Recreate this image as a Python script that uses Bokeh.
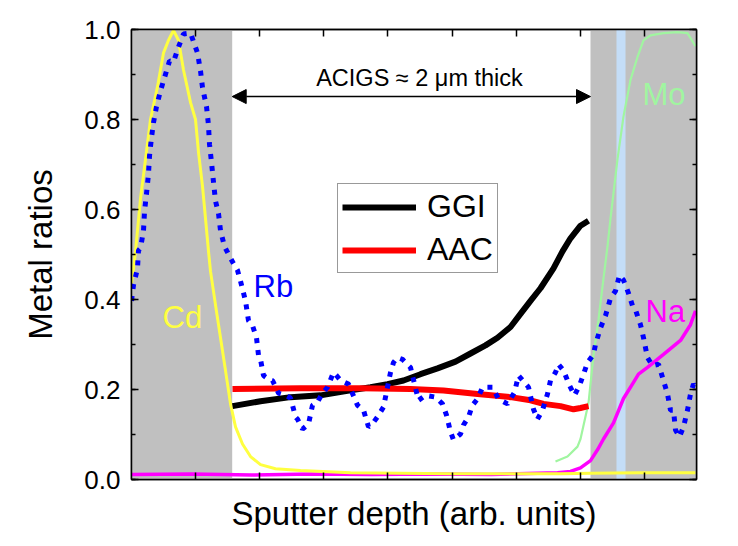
from bokeh.plotting import figure
from bokeh.models import (Range1d, LinearAxis, FixedTicker, SingleIntervalTicker, Label, Arrow,
                          NormalHead, PrintfTickFormatter, CustomJSTickFormatter)
from bokeh.embed import file_html
from bokeh.resources import INLINE

FONT = "Liberation Sans"

# Sputter depth in arbitrary units (0 .. 565)
depth_max = 565
ACIGS_start = 100.7
ACIGS_end = 459
blue_band = (485, 494)

cd_x = [0, 2, 4, 9, 14, 19, 26, 32, 37, 42, 47, 52, 59, 64, 67, 71, 74, 77, 79, 84, 89, 94, 99, 104, 111, 119, 129, 144, 169, 219, 319, 429, 459, 509, 564]
cd_y = [0.436, 0.469, 0.507, 0.624, 0.712, 0.800, 0.873, 0.948, 0.976, 0.998, 0.976, 0.910, 0.838, 0.800, 0.727, 0.652, 0.580, 0.507, 0.463, 0.388, 0.315, 0.242, 0.168, 0.117, 0.079, 0.051, 0.033, 0.024, 0.020, 0.015, 0.013, 0.013, 0.014, 0.015, 0.015]

rb_x = [0, 2, 6, 7, 9, 12, 13, 15, 17, 18, 20, 22, 25, 29, 33, 38, 42, 47, 52, 59, 66, 69, 71, 75, 77, 78, 80, 82, 84, 87, 89, 93, 98, 102, 106, 109, 114, 117, 121, 125, 127, 129, 132, 137, 141, 147, 154, 159, 161, 164, 166, 171, 177, 181, 186, 191, 196, 202, 205, 209, 217, 226, 232, 237, 240, 246, 252, 259, 262, 266, 271, 279, 287, 294, 304, 311, 315, 319, 322, 329, 332, 337, 341, 346, 351, 361, 367, 376, 383, 387, 397, 402, 406, 411, 416, 419, 424, 427, 432, 438, 443, 448, 452, 456, 462, 464, 469, 474, 479, 484, 488, 492, 497, 501, 504, 509, 512, 516, 521, 527, 532, 536, 539, 542, 544, 548, 552, 556, 559, 562, 564]
rb_y = [0.397, 0.432, 0.469, 0.509, 0.514, 0.553, 0.595, 0.635, 0.679, 0.719, 0.760, 0.793, 0.829, 0.864, 0.893, 0.930, 0.928, 0.961, 0.990, 0.992, 0.948, 0.908, 0.871, 0.829, 0.787, 0.745, 0.705, 0.661, 0.619, 0.591, 0.553, 0.518, 0.496, 0.480, 0.465, 0.441, 0.397, 0.353, 0.342, 0.315, 0.276, 0.267, 0.231, 0.223, 0.220, 0.192, 0.187, 0.181, 0.165, 0.139, 0.134, 0.112, 0.123, 0.165, 0.172, 0.192, 0.205, 0.238, 0.231, 0.220, 0.212, 0.165, 0.154, 0.117, 0.121, 0.139, 0.161, 0.238, 0.260, 0.271, 0.267, 0.249, 0.176, 0.187, 0.183, 0.168, 0.143, 0.106, 0.088, 0.101, 0.121, 0.139, 0.165, 0.179, 0.205, 0.205, 0.179, 0.168, 0.194, 0.231, 0.205, 0.156, 0.134, 0.154, 0.190, 0.220, 0.238, 0.256, 0.242, 0.209, 0.187, 0.209, 0.234, 0.260, 0.278, 0.300, 0.337, 0.364, 0.403, 0.419, 0.454, 0.443, 0.414, 0.386, 0.377, 0.344, 0.315, 0.271, 0.253, 0.256, 0.220, 0.190, 0.154, 0.154, 0.110, 0.095, 0.117, 0.154, 0.190, 0.212, 0.205]

ggi_x = [101, 129, 159, 189, 219, 239, 256, 272, 289, 306, 324, 339, 354, 366, 379, 389, 399, 409, 422, 431, 439, 449, 457]
ggi_y = [0.163, 0.174, 0.183, 0.187, 0.198, 0.205, 0.212, 0.220, 0.234, 0.247, 0.262, 0.280, 0.298, 0.315, 0.339, 0.368, 0.397, 0.425, 0.469, 0.507, 0.536, 0.564, 0.575]

aac_x = [101, 169, 229, 279, 312, 346, 379, 399, 412, 429, 442, 449, 457]
aac_y = [0.201, 0.203, 0.203, 0.201, 0.198, 0.190, 0.183, 0.176, 0.168, 0.163, 0.156, 0.159, 0.163]

mo_x = [424, 436, 446, 449, 457, 462, 467, 472, 476, 479, 486, 492, 499, 506, 512, 519, 532, 546, 556, 562, 564]
mo_y = [0.040, 0.051, 0.073, 0.090, 0.170, 0.276, 0.355, 0.447, 0.518, 0.580, 0.712, 0.807, 0.888, 0.939, 0.976, 0.987, 0.992, 0.994, 0.992, 0.970, 0.963]

na_x = [0, 60, 120, 180, 240, 300, 360, 426, 439, 449, 459, 466, 472, 482, 492, 502, 507, 516, 532, 549, 559, 564]
na_y = [0.011, 0.012, 0.010, 0.012, 0.011, 0.012, 0.011, 0.015, 0.018, 0.026, 0.042, 0.066, 0.090, 0.126, 0.180, 0.216, 0.234, 0.249, 0.278, 0.309, 0.344, 0.375]

y_ticks_interval = 0.2
x_tick_positions = [64.1 * k for k in range(1, 9)]

p = figure(width=722, height=534, output_backend="svg", toolbar_location=None,
           x_range=Range1d(0, depth_max), y_range=Range1d(0, 1),
           min_border_left=131, min_border_right=26, min_border_top=29, min_border_bottom=51)
p.grid.visible = False
p.outline_line_color = "black"
p.outline_line_width = 1.5
p.background_fill_color = "white"

# shaded regions
p.quad(left=[0, ACIGS_end], right=[ACIGS_start, depth_max], bottom=[0, 0], top=[1, 1],
       fill_color="#c0c0c0", line_color=None)
p.quad(left=[blue_band[0]], right=[blue_band[1]], bottom=[0], top=[1],
       fill_color="#c4ddf7", line_color=None)

p.line(na_x, na_y, line_color="#ff00ff", line_width=3.5)
p.line(cd_x, cd_y, line_color="#ffff40", line_width=3)
p.line(mo_x, mo_y, line_color="#a0f5a0", line_width=2.2)
r_ggi = p.line(ggi_x, ggi_y, line_color="black", line_width=6, legend_label="GGI")
r_aac = p.line(aac_x, aac_y, line_color="#ff0000", line_width=6, legend_label="AAC")
p.line(rb_x, rb_y, line_color="#0000ff", line_width=5, line_dash="5 7")

blank = CustomJSTickFormatter(code="return ''")

# axes
def style_axis(ax, labels=True):
    ax.major_tick_in = 7
    ax.major_tick_out = 0
    ax.minor_tick_in = 4
    ax.minor_tick_out = 0
    ax.axis_line_width = 1.5
    ax.major_tick_line_width = 1.5
    ax.minor_tick_line_width = 1.5
    ax.axis_line_color = "black"
    ax.major_label_text_font = FONT
    ax.axis_label_text_font = FONT
    ax.axis_label_text_font_style = "normal"
    ax.axis_label_text_color = "black"
    ax.major_label_text_color = "black"
    if not labels:
        ax.formatter = blank
        ax.major_label_text_font_size = "2px"
        ax.major_label_standoff = 0

yax = p.yaxis[0]
yax.ticker = SingleIntervalTicker(interval=y_ticks_interval, num_minor_ticks=2)
style_axis(yax)
yax.formatter = PrintfTickFormatter(format="%.1f")
yax.major_label_text_font_size = "26px"
yax.major_label_standoff = 11
yax.axis_label = "Metal ratios"
yax.axis_label_text_font_size = "33px"
yax.axis_label_standoff = 22

xax = p.xaxis[0]
xax.ticker = FixedTicker(ticks=x_tick_positions, minor_ticks=[])
style_axis(xax, labels=False)
xax.axis_label = "Sputter depth (arb. units)"
xax.axis_label_text_font_size = "33px"
xax.axis_label_standoff = 15

rax = LinearAxis(ticker=SingleIntervalTicker(interval=y_ticks_interval, num_minor_ticks=2))
style_axis(rax, labels=False)
p.add_layout(rax, "right")
tax = LinearAxis(ticker=FixedTicker(ticks=x_tick_positions, minor_ticks=[]))
style_axis(tax, labels=False)
p.add_layout(tax, "above")

# thickness annotation
arrow_y = 0.851
p.add_layout(Arrow(x_start=ACIGS_start, x_end=ACIGS_end, y_start=arrow_y, y_end=arrow_y,
                   line_width=1.5, line_color="black",
                   start=NormalHead(size=14, fill_color="black", line_color="black"),
                   end=NormalHead(size=14, fill_color="black", line_color="black")))
p.add_layout(Label(x=288, y=0.892, text="ACIGS \u2248 2 \u03bcm thick",
                   text_align="center", text_baseline="alphabetic",
                   text_font=FONT, text_font_size="23.5px", text_color="black"))

for txt, xx, yy, col in [("Cd", 31, 0.360, "#ffff40"), ("Rb", 122, 0.428, "#0000ff"),
                         ("Mo", 511, 0.856, "#a0f5a0"), ("Na", 514, 0.373, "#ff00ff")]:
    p.add_layout(Label(x=xx, y=yy, text=txt, text_align="left", text_baseline="alphabetic",
                       text_font=FONT, text_font_size="31px", text_color=col))

leg = p.legend[0]
leg.location = (206, 206)
leg.label_text_font = FONT
leg.label_text_font_size = "32px"
leg.label_text_color = "black"
leg.glyph_width = 74
leg.glyph_height = 34
leg.label_height = 34
leg.label_standoff = 11
leg.spacing = 6
leg.padding = 4
leg.margin = 0
leg.border_line_color = "#333333"
leg.border_line_width = 1.3
leg.background_fill_alpha = 1

open("out.html", "w").write(file_html(p, INLINE))
